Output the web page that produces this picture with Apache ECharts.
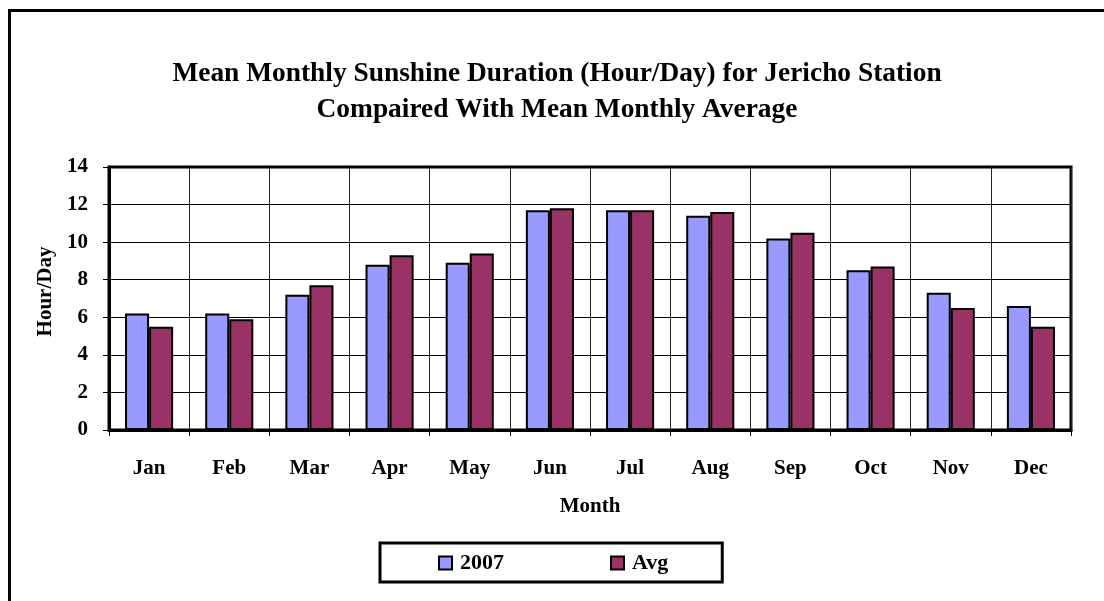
<!DOCTYPE html>
<html>
<head>
<meta charset="utf-8">
<script src="https://cdn.jsdelivr.net/npm/echarts@6/dist/echarts.min.js"></script>
<style>
  html, body { margin: 0; padding: 0; background: #fff; }
  #chart { width: 1104px; height: 601px; }
</style>
</head>
<body>
<div id="chart"></div>
<script>
// months along the x axis
const months = ['Jan', 'Feb', 'Mar', 'Apr', 'May', 'Jun', 'Jul', 'Aug', 'Sep', 'Oct', 'Nov', 'Dec'];
// sunshine hours per day
const year2007 = [6.2, 6.2, 7.2, 8.8, 8.9, 11.7, 11.7, 11.4, 10.2, 8.5, 7.3, 6.6];
const monthlyAvg = [5.5, 5.9, 7.7, 9.3, 9.4, 11.8, 11.7, 11.6, 10.5, 8.7, 6.5, 5.5];

const serif = '"Liberation Serif", "Times New Roman", serif';

const chart = echarts.init(document.getElementById('chart'));

chart.setOption({
  animation: false,
  backgroundColor: '#fff',
  title: {
    text: 'Mean Monthly Sunshine Duration (Hour/Day) for Jericho Station\nCompaired With Mean Monthly Average',
    left: 552,
    top: 51,
    textAlign: 'center',
    textStyle: { fontFamily: serif, fontWeight: 'bold', fontSize: 27.4, lineHeight: 36, color: '#000' }
  },
  graphic: [{
    type: 'rect',
    shape: { x: 9.5, y: 10.5, width: 1200, height: 700 },
    style: { fill: 'none', stroke: '#000', lineWidth: 3 },
    silent: true
  }],
  legend: {
    left: 380,
    top: 543,
    padding: [9, 54, 8, 58],
    itemGap: 106,
    itemWidth: 13,
    itemHeight: 13,
    icon: 'rect',
    borderColor: '#000',
    borderWidth: 3,
    textStyle: { fontFamily: serif, fontWeight: 'bold', fontSize: 22, color: '#000', padding: [0, 0, 0, 3] },
    data: ['2007', 'Avg']
  },
  grid: {
    left: 109, right: 33, top: 167, bottom: 171,
    show: true,
    borderColor: '#000',
    borderWidth: 3
  },
  xAxis: {
    type: 'category',
    data: months,
    name: 'Month',
    nameLocation: 'middle',
    nameGap: 66,
    nameTextStyle: { fontFamily: serif, fontWeight: 'bold', fontSize: 21, color: '#000' },
    axisLine: { lineStyle: { color: '#000', width: 3 } },
    axisTick: { show: true, length: 6, lineStyle: { color: '#000', width: 1 } },
    axisLabel: { margin: 28, fontFamily: serif, fontWeight: 'bold', fontSize: 21, color: '#000' },
    splitLine: { show: true, lineStyle: { color: '#222', width: 1 } }
  },
  yAxis: {
    type: 'value',
    min: 0,
    max: 14,
    interval: 2,
    name: 'Hour/Day',
    nameLocation: 'middle',
    nameGap: 53,
    nameTextStyle: { fontFamily: serif, fontWeight: 'bold', fontSize: 21, color: '#000', padding: [0, 0, 0, 14] },
    axisLine: { show: true, lineStyle: { color: '#000', width: 3 } },
    axisTick: { show: true, length: 6, lineStyle: { color: '#000', width: 1 } },
    axisLabel: { margin: 21, fontFamily: serif, fontWeight: 'bold', fontSize: 21, color: '#000' },
    splitLine: { show: true, lineStyle: { color: '#000', width: 1 } }
  },
  series: [
    {
      name: '2007',
      type: 'bar',
      data: year2007,
      barGap: '0%',
      barCategoryGap: '40%',
      itemStyle: { color: '#9999FF', borderColor: '#000', borderWidth: 2 }
    },
    {
      name: 'Avg',
      type: 'bar',
      data: monthlyAvg,
      itemStyle: { color: '#993366', borderColor: '#000', borderWidth: 2 }
    }
  ]
});
</script>
</body>
</html>
